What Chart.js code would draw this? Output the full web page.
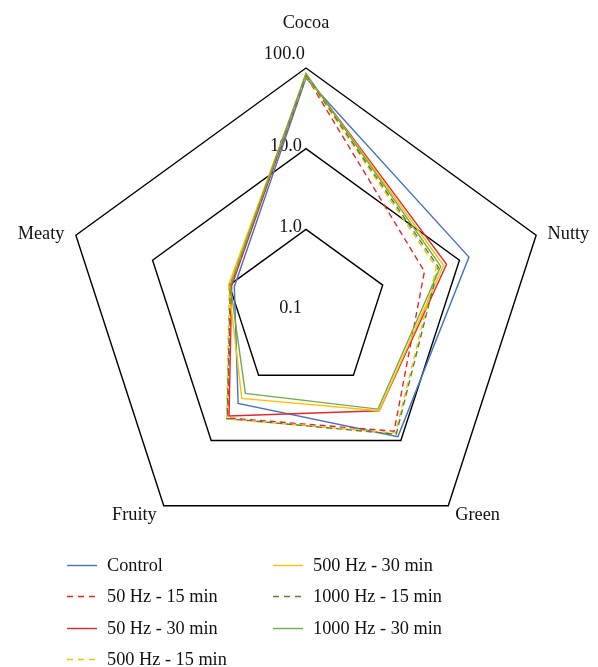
<!DOCTYPE html>
<html>
<head>
<meta charset="utf-8">
<script src="https://cdn.jsdelivr.net/npm/chart.js@4"></script>
<style>
  body { margin: 0; background: #fff; }
  #wrap { position: relative; width: 598px; height: 667px; }
  .leg { position: absolute; font: 18.3px "Liberation Serif", serif; color: #111; white-space: nowrap; height: 22px; line-height: 22px; }
  .leg svg { position: absolute; left: 0; top: 10px; }
  .leg span { position: absolute; left: 40px; top: 0; }
</style>
</head>
<body>
<div id="wrap">
  <canvas id="myChart" width="598" height="667"></canvas>
</div>
<script>
const categories = ['Cocoa', 'Nutty', 'Green', 'Fruity', 'Meaty'];
const seriesNames = ['Control', '50 Hz - 15 min', '50 Hz - 30 min', '500 Hz - 15 min',
  '500 Hz - 30 min', '1000 Hz - 15 min', '1000 Hz - 30 min'];

// values (Cocoa, Nutty, Green, Fruity, Meaty)
const control = [75, 13.3, 8.7, 2.7, 0.86];
const hz50min15 = [80, 3.5, 7.2, 4.5, 0.95];
const hz50min30 = [82, 6.8, 3.5, 4.2, 0.93];
const hz500min15 = [80, 5.0, 7.7, 4.7, 1.0];
const hz500min30 = [83, 6.2, 3.5, 2.26, 1.02];
const hz1000min15 = [82, 5.3, 8.0, 4.6, 0.97];
const hz1000min30 = [86, 5.7, 3.3, 1.9, 0.97];

const tickValues = [0.1, 1, 10, 100];

const allSeries = [control, hz50min15, hz50min30, hz500min15, hz500min30, hz1000min15, hz1000min30];
const colors = ['#4472C4', '#E8262A', '#E8262A', '#FFC000', '#FFC000', '#548235', '#70AD47'];
const dashed = [false, true, false, true, false, true, false];

const font = '18.3px "Liberation Serif", serif';

// tick labels drawn at the ring positions of the scale
const tickLabels = {
  id: 'tickLabels',
  beforeDatasetsDraw(chart) {
    const s = chart.scales.r;
    const c = chart.ctx;
    c.save();
    c.font = font;
    c.fillStyle = '#111';
    c.textAlign = 'right';
    c.textBaseline = 'middle';
    s.ticks.forEach((t, i) => {
      const d = s.getDistanceFromCenterForValue(t.value);
      const last = i === s.ticks.length - 1;
      const txt = Math.pow(10, t.value).toFixed(1);
      c.fillText(txt, s.xCenter - (last ? 1 : 4), s.yCenter - d - (last ? 14 : 2));
    });
    c.restore();
  }
};

// category labels outside the outer ring
const catLabels = {
  id: 'catLabels',
  afterDraw(chart) {
    const s = chart.scales.r;
    const c = chart.ctx;
    c.save();
    c.font = font;
    c.fillStyle = '#111';
    c.textBaseline = 'middle';
    chart.data.labels.forEach((lab, i) => {
      const p = s.getPointPosition(i, s.drawingArea + 12);
      let y = p.y;
      if (Math.abs(p.x - s.xCenter) < 2) {
        c.textAlign = 'center';
        y = p.y - 33;
      } else {
        c.textAlign = p.x > s.xCenter ? 'left' : 'right';
        if (p.y < s.yCenter) y = p.y + 3;
      }
      c.fillText(lab, p.x, y);
    });
    c.restore();
  }
};

const ctx = document.getElementById('myChart').getContext('2d');

const myChart = new Chart(ctx, {
  type: 'radar',
  data: {
    labels: categories,
    datasets: allSeries.map((vals, i) => ({
      label: seriesNames[i],
      data: vals.map(v => Math.log10(v)),
      borderColor: colors[i],
      backgroundColor: colors[i],
      borderWidth: 1.4,
      borderDash: dashed[i] ? [6, 4] : [],
      pointRadius: 0,
      fill: false,
      order: allSeries.length - i
    }))
  },
  options: {
    responsive: false,
    animation: false,
    devicePixelRatio: 1,
    layout: { padding: { left: 64, right: 50, top: 68, bottom: 115 } },
    plugins: {
      legend: { display: false },
      tooltip: { enabled: false }
    },
    scales: {
      r: {
        min: Math.log10(tickValues[0]),
        max: Math.log10(tickValues[tickValues.length - 1]),
        ticks: { display: false, stepSize: 1 },
        grid: { color: '#000', lineWidth: 1.4 },
        angleLines: { display: false },
        pointLabels: { display: false }
      }
    }
  },
  plugins: [tickLabels, catLabels]
});

// legend in two columns below the chart
const wrap = document.getElementById('wrap');
myChart.data.datasets.forEach((ds, i) => {
  const col = i < 4 ? 0 : 1;
  const row = i < 4 ? i : i - 4;
  const div = document.createElement('div');
  div.className = 'leg';
  div.style.left = (col ? 273 : 67) + 'px';
  div.style.top = (554 + row * 31.3) + 'px';
  const dash = ds.borderDash.length ? 'stroke-dasharray="6 5"' : '';
  div.innerHTML = '<svg width="30" height="3"><line x1="0" y1="1.5" x2="30" y2="1.5" stroke="' +
    ds.borderColor + '" stroke-width="1.4" ' + dash + '/></svg><span>' + ds.label + '</span>';
  wrap.appendChild(div);
});
</script>
</body>
</html>
